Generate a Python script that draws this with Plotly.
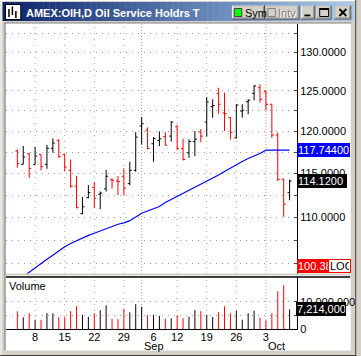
import math
import plotly.graph_objects as go

# ---------------- data ----------------
dates = [
    "2005-08-03", "2005-08-04", "2005-08-05",
    "2005-08-08", "2005-08-09", "2005-08-10", "2005-08-11", "2005-08-12",
    "2005-08-15", "2005-08-16", "2005-08-17", "2005-08-18", "2005-08-19",
    "2005-08-22", "2005-08-23", "2005-08-24", "2005-08-25", "2005-08-26",
    "2005-08-29", "2005-08-30", "2005-08-31", "2005-09-01", "2005-09-02",
    "2005-09-06", "2005-09-07", "2005-09-08", "2005-09-09",
    "2005-09-12", "2005-09-13", "2005-09-14", "2005-09-15", "2005-09-16",
    "2005-09-19", "2005-09-20", "2005-09-21", "2005-09-22", "2005-09-23",
    "2005-09-26", "2005-09-27", "2005-09-28", "2005-09-29", "2005-09-30",
    "2005-10-03", "2005-10-04", "2005-10-05", "2005-10-06", "2005-10-07"]

opens = [117.64, 116.07, 117.31, 116.07, 117.24, 116.07, 117.97, 118.91, 117.24, 115.37,
         113.54, 110.43, 112.23, 113.38, 112.63, 113.23, 114.28, 114.13, 114.68, 113.83,
         115.37, 120.65, 120.15, 118.51, 118.91, 119.37, 119.43, 120.56, 117.92, 117.43,
         118.78, 119.92, 121.14, 123.05, 124.70, 122.25, 121.67, 119.22, 122.49, 123.65,
         124.70, 125.41, 124.91, 123.33, 119.56, 114.34, 112.80]
highs = [117.85, 118.24, 117.43, 118.12, 117.24, 118.36, 119.15, 119.03, 117.31, 116.64,
         114.71, 112.30, 113.67, 114.02, 112.93, 115.41, 114.44, 114.71, 115.60, 116.37,
         119.92, 121.75, 120.49, 119.31, 120.00, 119.92, 121.26, 120.77, 119.10, 119.03,
         120.04, 120.27, 124.24, 123.95, 125.41, 124.78, 121.75, 123.33, 123.33, 123.95,
         125.75, 125.84, 125.08, 123.40, 119.84, 114.41, 114.30]
lows = [115.68, 116.07, 114.51, 116.07, 115.37, 115.56, 117.43, 116.84, 115.29, 113.38,
        111.03, 110.36, 112.16, 111.10, 110.92, 112.93, 113.26, 112.52, 112.52, 113.64,
        115.21, 118.44, 117.85, 116.37, 118.24, 118.32, 118.78, 117.73, 116.52, 116.84,
        117.04, 118.70, 119.36, 121.67, 122.16, 120.04, 119.03, 119.15, 121.67, 122.09,
        123.83, 123.53, 122.58, 119.22, 114.13, 110.09, 111.93]
closes = [116.19, 116.93, 115.60, 117.04, 115.79, 117.97, 118.59, 116.96, 115.76, 113.54,
          111.10, 111.19, 112.81, 112.16, 112.75, 114.68, 114.21, 114.05, 113.31, 115.37,
          119.31, 120.93, 117.95, 119.15, 119.10, 118.33, 121.14, 117.97, 116.64, 118.78,
          119.07, 119.43, 123.61, 123.17, 123.33, 122.16, 119.89, 123.24, 122.58, 123.83,
          125.63, 123.95, 123.33, 119.56, 114.34, 111.48, 114.12]
moving_avg = [103.17, 103.64, 104.09, 104.53, 105.04, 105.46, 105.89, 106.39, 106.81, 107.15,
              107.47, 107.75, 108.03, 108.27, 108.51, 108.80, 109.04, 109.26, 109.41, 109.65,
              110.06, 110.48, 110.73, 110.98, 111.23, 111.68, 112.02, 112.42, 112.76, 113.10,
              113.44, 113.79, 114.13, 114.48, 114.83, 115.23, 115.64, 116.05, 116.40, 116.76,
              117.05, 117.35, 117.744, 117.744, 117.744, 117.744, 117.744]
volume = [6470000, 4270000, 5740000, 3420000, 3420000, 5740000, 5740000, 4270000, 4270000, 6470000,
          8300000, 5250000, 4520000, 5740000, 6840000, 8670000, 3790000, 3540000, 7450000, 6110000,
          9040000, 8180000, 5010000, 5250000, 4880000, 3790000, 3910000, 5010000, 3910000, 4520000,
          6840000, 6470000, 5250000, 4520000, 6110000, 8300000, 5740000, 6720000, 3420000, 5740000,
          6720000, 4150000, 3170000, 5740000, 13800000, 16000000, 7214000]

label_dates = ["2005-08-08", "2005-08-15", "2005-08-22", "2005-08-29", "2005-09-06",
               "2005-09-12", "2005-09-19", "2005-09-26", "2005-10-03"]
week_grid_dates = ["2005-08-08", "2005-08-15", "2005-08-22", "2005-08-29",
                   "2005-09-12", "2005-09-19", "2005-09-26"]
month_start_dates = ["2005-09-01", "2005-10-03"]
month_labels = ["Sep", "Oct"]
price_ticks = [105, 107.5, 110, 112.5, 115, 117.5, 120, 122.5, 125, 127.5, 130, 132.5]
volume_ticks = [0, 5000000, 10000000]
volume_tick_text = ["0", "", "10,000,000"]
title_text = "AMEX:OIH,D Oil Service Holdrs T"
extra_value = "100.38"

# ---------------- layout helpers ----------------
W, H = 361, 356
L, R, T, B = 6, 60, 24, 27
PW, PH = W - L - R, H - T - B
FONT = "Liberation Sans, Arial, sans-serif"


def px(x):
    return (x - L) / PW


def py(y):
    return (H - B - y) / PH


idx = {d: i for i, d in enumerate(dates)}
xs = list(range(len(dates)))
x0r = -(17.5 - L) / 6.0
x1r = x0r + PW / 6.0

K = 990 * math.log(10)
A = 4871.0
main_top, main_bot = 24, 274
vol_top, vol_bot = 277.3, 329
ylo, yhi = (A - main_bot) / K, (A - main_top) / K
vmax = (vol_bot - vol_top) / 2.73 * 1e6

fig = go.Figure()
fig.add_trace(go.Ohlc(
    x=xs, open=opens, high=highs, low=lows, close=closes,
    xaxis="x", yaxis="y", tickwidth=0.34,
    increasing=dict(line=dict(color="#000000", width=1)),
    decreasing=dict(line=dict(color="#FF0000", width=1)),
    hoverinfo="skip"))
fig.add_trace(go.Scatter(
    x=xs, y=moving_avg, mode="lines", xaxis="x", yaxis="y",
    line=dict(color="#0000FF", width=1.2), hoverinfo="skip"))
vol_colors = ["#FF0000" if c < o else "#000000" for o, c in zip(opens, closes)]
fig.add_trace(go.Bar(
    x=xs, y=volume, xaxis="x2", yaxis="y2", width=1 / 6,
    marker=dict(color=vol_colors, line=dict(width=0)), hoverinfo="skip"))

shapes = []


def rect(x0, y0, x1, y1, fill, line=None, lw=0, layer="above"):
    shapes.append(dict(type="rect", xref="paper", yref="paper",
                       x0=px(x0), x1=px(x1), y0=py(y1), y1=py(y0),
                       fillcolor=fill, layer=layer,
                       line=dict(width=lw, color=line or fill)))


def hline(x0, x1, y, color, w=1, layer="above", dash="solid"):
    shapes.append(dict(type="line", xref="paper", yref="paper",
                       x0=px(x0), x1=px(x1), y0=py(y), y1=py(y), layer=layer,
                       line=dict(color=color, width=w, dash=dash)))


def seg(x0, y0, x1, y1, color, w=1):
    shapes.append(dict(type="line", xref="paper", yref="paper",
                       x0=px(x0), x1=px(x1), y0=py(y0), y1=py(y1), layer="above",
                       line=dict(color=color, width=w)))


# window frame / client area
rect(5, 23, 355.5, 350.5, "#FFFFFF", layer="below")
hline(4.5, 356, 23, "#808080", 1.2, layer="below")
shapes.append(dict(type="line", xref="paper", yref="paper", x0=px(5), x1=px(5),
                   y0=py(350.5), y1=py(23), layer="below", line=dict(color="#808080", width=1.2)))
hline(0, 361, 0.5, "#FFFFFF", 1, layer="below")
shapes.append(dict(type="line", xref="paper", yref="paper", x0=px(1), x1=px(1),
                   y0=py(356), y1=py(0), layer="below", line=dict(color="#FFFFFF", width=1)))
hline(0, 361, 355.5, "#404040", 1, layer="below")
shapes.append(dict(type="line", xref="paper", yref="paper", x0=px(360.5), x1=px(360.5),
                   y0=py(356), y1=py(0), layer="below", line=dict(color="#404040", width=1)))

# vertical grid lines
for d in week_grid_dates:
    for xr, yr in (("x", "y domain"), ("x2", "y2 domain")):
        shapes.append(dict(type="line", xref=xr, yref=yr, x0=idx[d], x1=idx[d], y0=0, y1=1,
                           layer="below", line=dict(color="#A0A0A0", width=1, dash="1px,5px")))
for d in month_start_dates:
    for xr, yr in (("x", "y domain"), ("x2", "y2 domain")):
        shapes.append(dict(type="line", xref=xr, yref=yr, x0=idx[d], x1=idx[d], y0=0, y1=1,
                           layer="below", line=dict(color="#A0A0A0", width=1, dash="1px,2px")))

# panel separator
hline(6, 355, 274.5, "#D4D0C8", 2)
hline(6, 355, 277, "#000000", 1.3)

# title bar gradient
c0, c1 = (10, 36, 106), (166, 202, 240)
n = 60
tx0, tx1 = 2.5, 358.5
for i in range(n):
    f = i / (n - 1)
    col = "rgb(%d,%d,%d)" % tuple(round(a + (b - a) * f) for a, b in zip(c0, c1))
    xa = tx0 + (tx1 - tx0) * i / n
    xb = tx0 + (tx1 - tx0) * (i + 1) / n + 0.3
    rect(xa, 2, xb, 21, col)

# icon
rect(5.5, 4.5, 21, 19.5, "#FFFFFF", "#000000", 1)
for xx, ya, yb in ((9, 9, 17), (12.5, 6.5, 15), (16, 11, 18)):
    seg(xx, ya, xx, yb, "#000000", 1.5)


def button(x0, y0, x1, y1):
    rect(x0, y0, x1, y1, "#404040")
    rect(x0, y0, x1 - 1, y1 - 1, "#FFFFFF")
    rect(x0 + 1, y0 + 1, x1 - 1, y1 - 1, "#808080")
    rect(x0 + 1, y0 + 1, x1 - 2, y1 - 2, "#D4D0C8")


button(235, 5.5, 268.5, 19.5)
rect(237.5, 8.5, 245, 16.5, "#00FF00", "#404040", 1)
button(269, 5.5, 303.5, 19.5)
rect(271.5, 8.5, 279, 16.5, "#D4D0C8", "#808080", 1)
button(305, 5.5, 319.5, 19.5)
rect(308.5, 14.5, 314.5, 16.3, "#000000")
button(320.5, 5.5, 336, 19.5)
rect(324, 8.5, 333, 16.5, "rgba(0,0,0,0)", "#000000", 1)
rect(324, 8.3, 333, 10, "#000000")
button(339, 5.5, 356, 19.5)
seg(344, 9, 351, 16, "#000000", 1.8)
seg(351, 9, 344, 16, "#000000", 1.8)

annotations = []


def text(x, y, s, size=11, color="#000000", anchor="left", bold=False, xref="paper", yref="paper"):
    annotations.append(dict(
        x=px(x) if xref == "paper" else x, y=py(y) if yref == "paper" else y,
        xref=xref, yref=yref, text=("<b>%s</b>" % s) if bold else s, showarrow=False,
        xanchor=anchor, yanchor="middle", font=dict(family=FONT, size=size, color=color)))


def box(x0, x1, ymid, s, bg, color="#FFFFFF", h=12, yref="paper", border=None):
    annotations.append(dict(
        x=px(x0), y=ymid if yref != "paper" else py(ymid), xref="paper", yref=yref,
        text=s, showarrow=False, xanchor="left", yanchor="middle", align="left",
        width=x1 - x0 - 2 - (2 if border else 0), height=h, borderpad=1, bgcolor=bg,
        bordercolor=border or bg, borderwidth=1 if border else 0,
        font=dict(family=FONT, size=11, color=color)))


text(24, 12.5, title_text, 11, "#FFFFFF", bold=True)
text(246.5, 12.8, "Sym", 11)
text(280.5, 13.8, "Intv", 11, "#FFFFFF")
text(279.5, 12.8, "Intv", 11, "#808080")
text(7, 285.5, "Volume", 11)
for d, lab in zip(month_start_dates, month_labels):
    annotations.append(dict(x=idx[d], y=py(345.5), xref="x2", yref="paper", text=lab,
                            showarrow=False, xanchor="left", yanchor="middle",
                            font=dict(family=FONT, size=11, color="#000000")))

box(300.7, 354, math.log10(moving_avg[-1]), "%.5f" % moving_avg[-1], "#0000FF", yref="y")
box(300.7, 350.5, math.log10(closes[-1]), "%.4f" % closes[-1], "#000000", yref="y")
box(300.7, 333.5, 266.3, extra_value, "#FF0000", h=12)
box(332, 355, 266.3, "LOG", "#FFFFFF", color="#000000", h=10, border="#FF0000")
box(300.3, 350.5, volume[-1], "{:,}".format(volume[-1]), "#000000", yref="y2")

axis_font = dict(family=FONT, size=11, color="#000000")
fig.update_layout(
    width=W, height=H, margin=dict(l=L, r=R, t=T, b=B, pad=0),
    paper_bgcolor="#D4D0C8", plot_bgcolor="rgba(0,0,0,0)",
    showlegend=False, shapes=shapes, annotations=annotations,
    xaxis=dict(domain=[0, 1], anchor="y", range=[x0r, x1r], showgrid=False,
               showticklabels=False, zeroline=False, showline=False, ticks="",
               rangeslider=dict(visible=False), fixedrange=True),
    yaxis=dict(domain=[py(main_bot), 1], anchor="x", type="log", range=[ylo, yhi],
               side="right", tickvals=price_ticks,
               ticktext=["%.4f" % v if v % 5 == 0 else "" for v in price_ticks],
               ticks="inside", ticklen=3, tickcolor="#404040", showline=True,
               linecolor="#000000", linewidth=1, showgrid=True, gridcolor="#A0A0A0",
               griddash="1px,5px", gridwidth=1, zeroline=False, tickfont=axis_font),
    xaxis2=dict(domain=[0, 1], anchor="y2", range=[x0r, x1r], showgrid=False,
                tickvals=[idx[d] for d in label_dates],
                ticktext=[str(int(d[-2:])) for d in label_dates],
                ticks="", showline=True, linecolor="#000000", linewidth=1,
                zeroline=False, tickfont=axis_font, ticklabelstandoff=-2),
    yaxis2=dict(domain=[0, py(vol_top)], anchor="x2", range=[0, vmax], side="right",
                tickvals=volume_ticks, ticktext=volume_tick_text, ticks="inside",
                ticklen=3, tickcolor="#404040", showline=True, linecolor="#000000",
                linewidth=1, showgrid=True, gridcolor="#A0A0A0", griddash="1px,5px",
                zeroline=False, tickfont=axis_font),
)

fig.write_html(
    "out.html",
    config={"displayModeBar": False, "staticPlot": True},
    post_script="document.body.style.margin='0';document.body.style.overflow='hidden';",
)
